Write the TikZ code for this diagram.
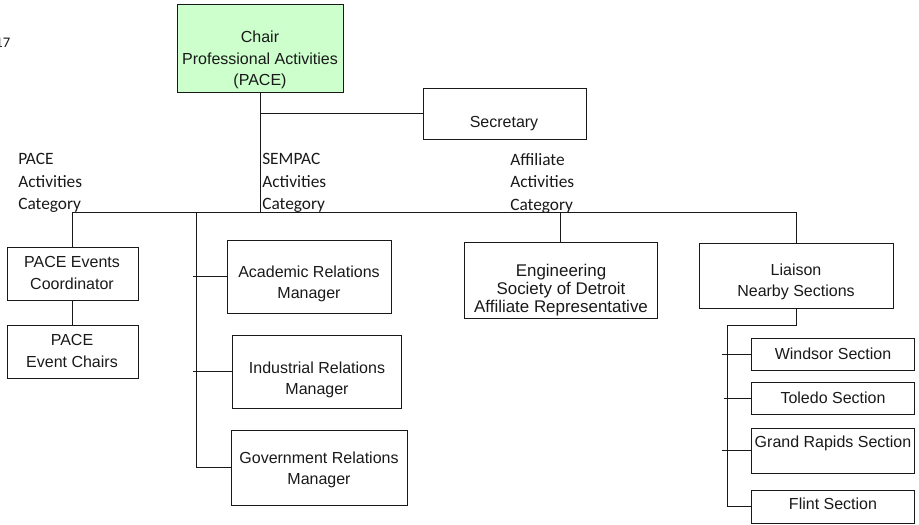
\documentclass[tikz,border=0pt]{standalone}
\usepackage{fontspec}
\setmainfont{Liberation Sans}
\newfontfamily\calibri{Carlito}
\usetikzlibrary{fit,calc}
\begin{document}
\begin{tikzpicture}[x=0.75pt,y=-0.75pt,
  box/.style={draw=black!90, line width=0.75pt, inner sep=0pt},
  lbl/.style={font=\fontsize{12}{16}\selectfont, align=center, inner sep=0pt, text=black!90},
  cat/.style={font=\calibri\fontsize{13}{17}\selectfont, align=left, anchor=north west, inner sep=0pt, text=black!90},
  conn/.style={line width=0.75pt, draw=black!90}]
\useasboundingbox (0,0) rectangle (919,524);

% boxes
\node[box, fill={rgb,255:red,204;green,255;blue,204}, fit={(177,5) (343,93)}] (chair) {};
\node[box, fit={(423,89) (586,139)}] (sec) {};
\node[box, fit={(7,247) (138,300)}] (pec) {};
\node[box, fit={(7,325) (138,378)}] (pech) {};
\node[box, fit={(227,240) (391,313)}] (acad) {};
\node[box, fit={(232,335) (401,408)}] (ind) {};
\node[box, fit={(231,430) (407,505)}] (gov) {};
\node[box, fit={(464,242) (657,318)}] (eng) {};
\node[box, fit={(699,243) (893,308)}] (lia) {};
\node[box, fit={(751,338) (914,370)}] (win) {};
\node[box, fit={(751,382) (914,414)}] (tol) {};
\node[box, fit={(751,428) (914,473)}] (gr) {};
\node[box, fit={(751,490) (914,523)}] (fli) {};

% box texts
\node[lbl] (chairt) at (260,60) {Chair\\Professional Activities\\(PACE)};
\node[lbl] (sect) at (504,124) {Secretary};
\node[lbl] (pect) at (72,273) {PACE Events\\Coordinator};
\node[lbl] (pecht) at (72,351) {PACE\\Event Chairs};
\node[lbl] (acadt) at (309,284) {Academic Relations\\Manager};
\node[lbl] (indt) at (317,380) {Industrial Relations\\Manager};
\node[lbl] (govt) at (319,470) {Government Relations\\Manager};
\node[lbl, font=\fontsize{12.7}{13.6}\selectfont] (engt) at (561,290) {Engineering\\Society of Detroit\\Affiliate Representative};
\node[lbl] (liat) at (796,282) {Liaison\\Nearby Sections};
\node[lbl] (wint) at (833,354) {Windsor Section};
\node[lbl] (tolt) at (833,398) {Toledo Section};
\node[lbl] (grt) at (833,443) {Grand Rapids Section};
\node[lbl] (flit) at (833,504) {Flint Section};

% category labels
\node[cat] (catpace) at (18,153) {PACE\\Activities\\Category};
\node[cat] (catsem) at (262,153) {SEMPAC\\Activities\\Category};
\node[cat] (cataff) at (510,153) {Affiliate\\Activities\\Category};
\node[font=\calibri\fontsize{11}{13}\selectfont, anchor=base east, inner sep=0pt, text=black!90] (yr) at (10.5,47.5) {17};

% connectors
\coordinate (busL) at (72,212);
\coordinate (sv) at (196,212);
\coordinate (lv) at (727,325);
\draw[conn] (chair.south) -- (chair.south |- busL);
\draw[conn] (chair.south |- sec.west) -- (sec.west);
\draw[conn] (pec.north |- busL) -- (lia.north |- busL);
\draw[conn] (pec.north |- busL) -- (pec.north);
\draw[conn] (pec.south) -- (pech.north);
\draw[conn] (sv) |- (gov.west);
\draw[conn] ($(sv |- acad.west)+(-3,0)$) -- (acad.west);
\draw[conn] ($(sv |- ind.west)+(-3,0)$) -- (ind.west);
\draw[conn] (eng.north |- busL) -- (eng.north);
\draw[conn] (lia.north |- busL) -- (lia.north);
\draw[conn] (lia.south) -- (lia.south |- lv) -- (lv) |- (fli.west);
\draw[conn] ($(lv |- win.west)+(-5,0)$) -- (win.west);
\draw[conn] ($(lv |- tol.west)+(-3,0)$) -- (tol.west);
\draw[conn] ($(lv |- gr.west)+(-5,0)$) -- (gr.west);
\end{tikzpicture}
\end{document}
